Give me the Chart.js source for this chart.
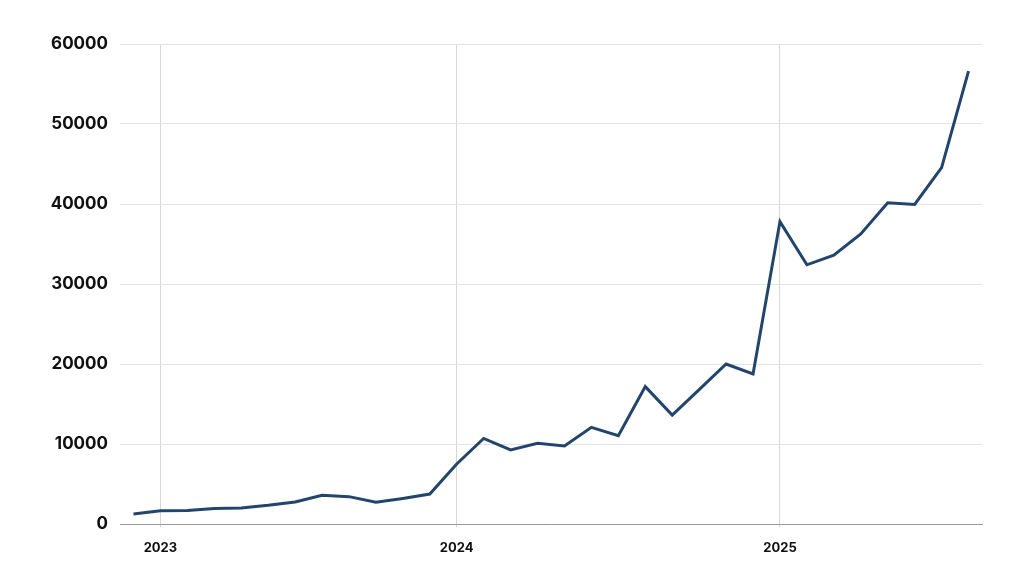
<!DOCTYPE html>
<html>
<head>
<meta charset="utf-8">
<script src="https://cdn.jsdelivr.net/npm/chart.js@4.4.1/dist/chart.umd.min.js"></script>
<style>
  html, body { margin: 0; padding: 0; background: #fff; }
  #wrap { width: 1024px; height: 576px; }
</style>
</head>
<body>
<div id="wrap"><canvas id="myChart" width="1024" height="576"></canvas></div>
<script>
// one label per monthly point, only the year starts are shown
var xLabels = ['', '2023', '', '', '', '', '', '', '', '', '', '',
               '2024', '', '', '', '', '', '', '', '', '', '', '',
               '2025', '', '', '', '', '', '', ''];
var values = [1250, 1650, 1700, 1950, 2000, 2330, 2750, 3580, 3420, 2710, 3200, 3750,
              7500, 10700, 9250, 10080, 9750, 12080, 11040, 17170, 13620, 16800, 20000, 18750,
              37800, 32400, 33600, 36250, 40150, 39950, 44550, 56600];
var yTicks = [0, 10000, 20000, 30000, 40000, 50000, 60000];

window.onload = function() {
  var ctx = document.getElementById('myChart');
  var lineChart = new Chart(ctx, {
    type: 'line',
    data: {
      labels: xLabels,
      datasets: [{
        data: values,
        borderColor: '#23446b',
        borderWidth: 3,
        pointRadius: 0,
        tension: 0,
        fill: false
      }]
    },
    options: {
      responsive: false,
      animation: false,
      layout: { padding: { top: 44, right: 42, bottom: 0, left: 0 } },
      plugins: { legend: { display: false }, tooltip: { enabled: false } },
      scales: {
        x: {
          type: 'category',
          offset: true,
          afterFit: function(scale) { scale.height = 52; },
          border: { display: true, color: '#9a9a9a', width: 1 },
          grid: {
            offset: false,
            tickLength: 3,
            color: function(c) {
              return (c.tick && xLabels[c.index]) ? '#d6d6d6' : 'rgba(0,0,0,0)';
            }
          },
          ticks: {
            autoSkip: false,
            maxRotation: 0,
            padding: 13,
            color: '#111',
            font: { family: 'Inter', size: 13, weight: '700' }
          }
        },
        y: {
          min: 0,
          max: 60000,
          afterFit: function(scale) { scale.width = 120; },
          afterBuildTicks: function(scale) {
            scale.ticks = yTicks.map(function(v) { return { value: v }; });
          },
          border: { display: false },
          grid: { color: '#e4e4e4', drawTicks: false },
          ticks: {
            padding: 12,
            color: '#111',
            font: { family: 'Inter', size: 17, weight: '700' },
            callback: function(v) { return v; }
          }
        }
      }
    }
  });
};
</script>
</body>
</html>
